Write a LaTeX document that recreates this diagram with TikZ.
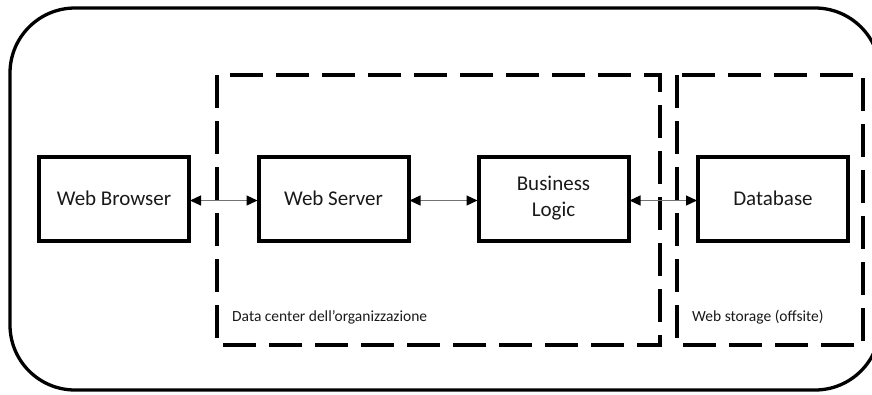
\documentclass[tikz,border=0pt]{standalone}
\usepackage{fontspec}
\setmainfont{Carlito}
\usetikzlibrary{arrows.meta}
\tikzset{
	blockbox/.style={draw=black, line width=4pt, minimum width=150pt, minimum height=84pt, align=center, font=\fontsize{21}{26}\selectfont, text=black!90},
	zonebox/.style={line width=4pt, dash pattern=on 33pt off 13pt},
	zonelabel/.style={anchor=west, font=\fontsize{15.5}{17}\selectfont, text=black!90, inner sep=0pt},
	link/.style={draw=black!55, line width=1.3pt, {Triangle[black, length=11pt, width=10pt]}-{Triangle[black, length=11pt, width=10pt]}, shorten <=-1pt, shorten >=-1pt}
}

\begin{document}
\begin{tikzpicture}[x=1pt, y=-1pt]
		%%%%% START %%%%%
		\useasboundingbox (0, 0) rectangle (872, 394);
		\clip (0, 0) rectangle (872, 394);
		
		\draw[line width=3.3pt, rounded corners=65pt] (10, 8) rectangle (880, 390);
		
		\draw[zonebox] (217, 75) rectangle (660, 345);
		\draw[zonebox] (677, 75) rectangle (863, 345);
		
		\node[zonelabel] (dclabel) at (232, 317) {Data center dell’organizzazione};
		\node[zonelabel] (wslabel) at (692, 317) {Web storage (offsite)};
		
		\node[blockbox] (browser) at (114, 198.5) {Web Browser};
		\node[blockbox] (server) at (333.5, 198.5) {Web Server};
		\node[blockbox] (logic) at (553.5, 198.5) {Business\\Logic};
		\node[blockbox] (db) at (773, 198.5) {Database};
		
		\draw[link] ([yshift=-2pt]browser.east) -- ([yshift=-2pt]server.west);
		\draw[link] ([yshift=-2pt]server.east) -- ([yshift=-2pt]logic.west);
		\draw[link] ([yshift=-2pt]logic.east) -- ([yshift=-2pt]db.west);
		
		%%%%% END %%%%%
	\end{tikzpicture}
\end{document}
